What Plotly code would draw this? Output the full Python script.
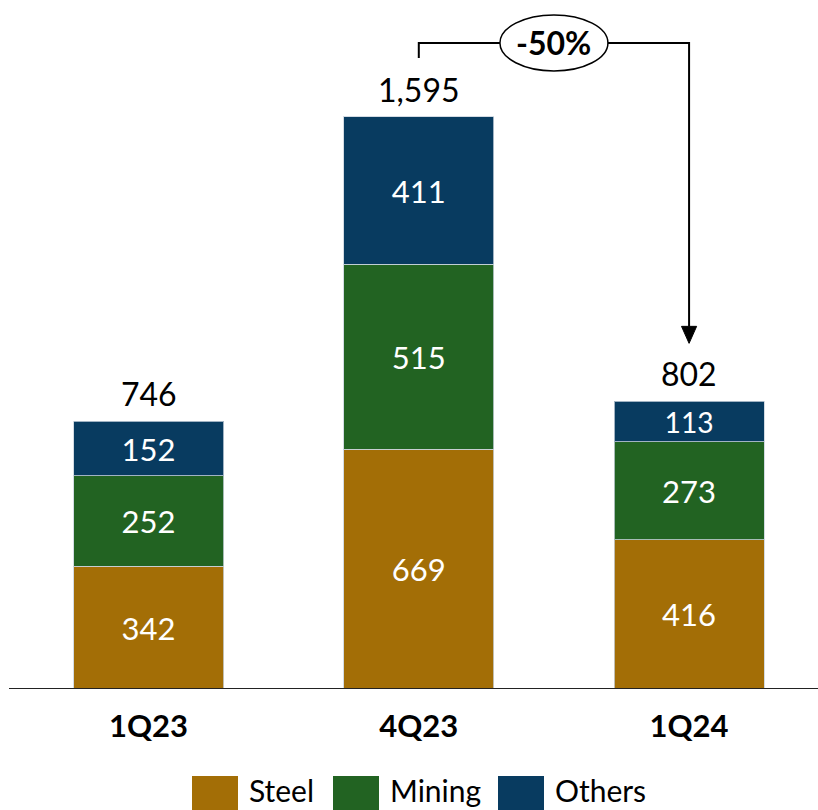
import plotly.graph_objects as go

# Quarterly breakdown by segment
quarters = ["1Q23", "4Q23", "1Q24"]
steel = [342, 669, 416]
mining = [252, 515, 273]
others = [152, 411, 113]
totals = [746, 1595, 802]
change_label = "-50%"

series_names = ["Steel", "Mining", "Others"]
series_colors = ["#A36E06", "#226322", "#083B60"]
series_values = [steel, mining, others]

FONT = "Lato, Carlito, 'Open Sans', sans-serif"
W, H = 818, 810
BOTTOM = 121
PLOT_H = H - BOTTOM
Y_TOP = 1921


def paper_y(py):
    """Convert a pixel row (from the top of the page) to paper y."""
    return (PLOT_H - py) / PLOT_H


fig = go.Figure()
for name, vals, col in zip(series_names, series_values, series_colors):
    fig.add_trace(go.Bar(
        x=quarters, y=vals, name=name,
        marker=dict(color=col, line=dict(color="rgba(200,210,220,0.8)", width=1)),
        width=0.555,
        text=[f"{v:,}" for v in vals],
        textposition="inside",
        insidetextanchor="middle",
        textangle=0,
        textfont=dict(color="white", size=31, family=FONT),
        showlegend=False,
    ))

# Totals above each stack
for q, t in zip(quarters, totals):
    fig.add_annotation(x=q, y=t, text=f"{t:,}", showarrow=False,
                       yanchor="bottom", yshift=6,
                       font=dict(size=32, color="black", family=FONT))

# Baseline
fig.add_shape(type="line", xref="paper", yref="y", x0=9 / W, x1=1, y0=0, y1=0,
              line=dict(color="#222222", width=2))

# Bracket arrow from 4Q23 total to 1Q24 total
px_per_unit = PLOT_H / Y_TOP
bracket_y = totals[1] + 74 / px_per_unit
left_start = totals[1] + 59 / px_per_unit
tip_y = totals[2] + 58 / px_per_unit
head_h = 17 / px_per_unit
fig.add_shape(type="path", xref="x", yref="y",
              path=f"M 1,{left_start} L 1,{bracket_y} L 2,{bracket_y} L 2,{tip_y + head_h}",
              line=dict(color="black", width=2))
fig.add_shape(type="path", xref="x", yref="y",
              path=f"M 1.972,{tip_y + head_h} L 2.028,{tip_y + head_h} L 2,{tip_y} Z",
              fillcolor="black", line=dict(color="black", width=1))
# Ellipse with the change label
cx = 1.5
ew = 54 / 270.25
eh = 28 / px_per_unit
fig.add_shape(type="circle", xref="x", yref="y",
              x0=cx - ew, x1=cx + ew, y0=bracket_y - eh, y1=bracket_y + eh,
              fillcolor="white", line=dict(color="black", width=1.5))
fig.add_annotation(x=cx, y=bracket_y, text=f"<b>{change_label}</b>", showarrow=False,
                   font=dict(size=32, color="black", family=FONT))

# Legend drawn as swatches with labels
legend_x = [192, 333, 498]
for name, col, lx in zip(series_names, series_colors, legend_x):
    fig.add_shape(type="rect", xref="paper", yref="paper",
                  x0=lx / W, x1=(lx + 46) / W,
                  y0=paper_y(812), y1=paper_y(776),
                  fillcolor=col, line=dict(width=0))
    fig.add_annotation(xref="paper", yref="paper", x=(lx + 55) / W,
                       y=paper_y(810),
                       text=name, showarrow=False, xanchor="left", yanchor="bottom",
                       font=dict(size=30, color="black", family=FONT))

fig.update_layout(
    width=W, height=H, barmode="stack",
    margin=dict(l=0, r=0, t=0, b=BOTTOM),
    plot_bgcolor="white", paper_bgcolor="white",
    xaxis=dict(range=[-0.5495, 2.477], showgrid=False, zeroline=False, showline=False,
               ticks="", tickfont=dict(size=31, color="black", family=FONT),
               tickvals=quarters, ticktext=[f"<b>{q}</b>" for q in quarters],
               ticklabelstandoff=16),
    yaxis=dict(range=[0, Y_TOP], visible=False),
    showlegend=False,
)
fig.write_html("out.html")
